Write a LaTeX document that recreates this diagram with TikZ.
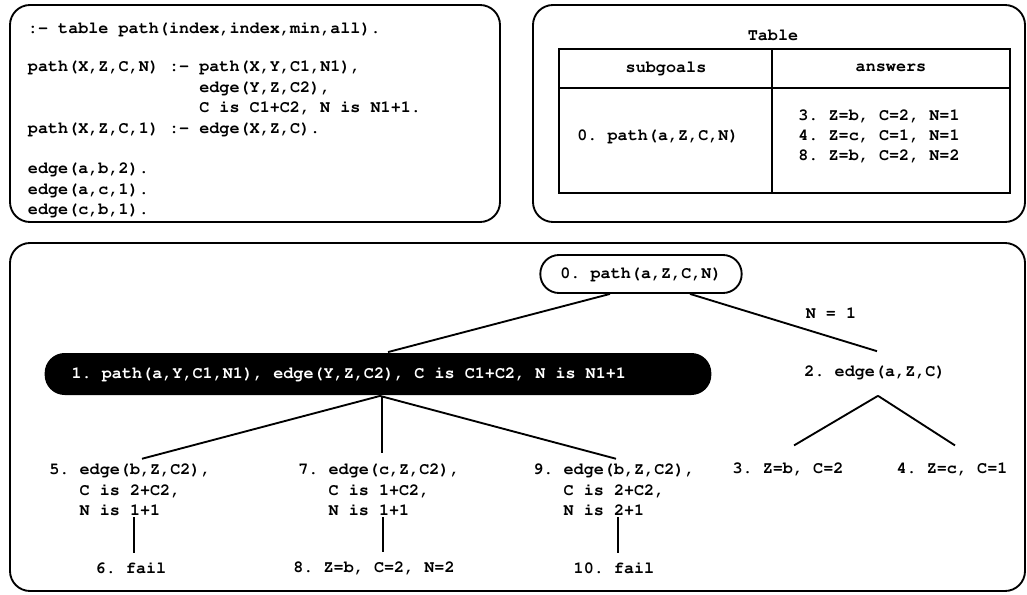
\documentclass[tikz,border=0pt]{standalone}
\usepackage[T1]{fontenc}
\usepackage{courier}
\usetikzlibrary{calc,positioning}
\frenchspacing

\begin{document}
\begin{tikzpicture}[x=0.75pt,y=-0.75pt,
    font=\ttfamily\bfseries\fontsize{12.6}{15.3}\selectfont,
    line width=1.4pt,
    panel/.style={draw,rounded corners=15pt},
    goal/.style={draw,rounded corners=14pt,minimum width=151pt,minimum height=28.5pt,inner sep=0pt},
    active/.style={fill=black,text=white,rounded corners=15pt,inner xsep=20.25pt,inner ysep=0pt,minimum height=31.5pt},
    leaf/.style={align=left}]

\useasboundingbox (0,0) rectangle (1027,595);

% the three panels
\draw[panel] (10,5) rectangle (500,222);
\draw[panel] (533,5) rectangle (1025,222);
\draw[panel] (10,243) rectangle (1025,591);

% program
\node[align=left,anchor=north west,inner sep=0pt] (prog) at (27,21) {:- table path(index,index,min,all).\\[13.8pt]
path(X,Z,C,N) :- path(X,Y,C1,N1),\\
\hphantom{path(X,Z,C,N) :- }edge(Y,Z,C2),\\
\hphantom{path(X,Z,C,N) :- }C is C1+C2, N is N1+1.\\
path(X,Z,C,1) :- edge(X,Z,C).\\[15.3pt]
edge(a,b,2).\\
edge(a,c,1).\\
edge(c,b,1).};

% table
\node (tabtitle) at (773,35) {Table};
\draw (559,49) rectangle (1010,193);
\draw (559,88) -- (1010,88);
\draw (772,49) -- (772,193);
\node (subg) at (666,68) {subgoals};
\node (answ) at (891,68) {answers};
\node (tsub) at (658,136) {0. path(a,Z,C,N)};
\node[align=left] (tans) at (879,136) {3. Z=b, C=2, N=1\\4. Z=c, C=1, N=1\\8. Z=b, C=2, N=2};

% tree
\node[goal] (n0) at (641,274) {0. path(a,Z,C,N)};
\node[active] (n1) at (378,374) {\makebox[459.5pt][l]{1. path(a,Y,C1,N1), edge(Y,Z,C2), C is C1+C2, N is N1+1}};
\node (n2) at (875,372) {2. edge(a,Z,C)};
\node (eq) at (831,313) {N = 1};
\node[leaf] (n5) at (130,490) {5. edge(b,Z,C2),\\\hphantom{5. }C is 2+C2,\\\hphantom{5. }N is 1+1};
\node[leaf] (n7) at (379,490) {7. edge(c,Z,C2),\\\hphantom{7. }C is 1+C2,\\\hphantom{7. }N is 1+1};
\node[leaf] (n9) at (614,490) {9. edge(b,Z,C2),\\\hphantom{9. }C is 2+C2,\\\hphantom{9. }N is 2+1};
\node (n3) at (788,469) {3. Z=b, C=2};
\node (n4) at (952,469) {4. Z=c, C=1};
\node (n6) at (131,568) {6. fail};
\node (n8) at (374,568) {8. Z=b, C=2, N=2};
\node (n10) at (614,568) {10. fail};

\draw ($(n0.south)+(-31,0)$) -- ($(n1.north)+(10,0)$);
\draw ($(n0.south)+(49,0)$) -- ($(n2.north)+(2,-9)$);
\draw ($(n1.south)+(2,0)$) -- ($(n5.north)+(12,0)$);
\draw ($(n1.south)+(4,0)$) -- ($(n7.north)+(3,-6)$);
\draw ($(n1.south)+(2,0)$) -- ($(n9.north)+(2,0)$);
\draw ($(n2.south)+(3,12)$) -- ($(n3.north)+(6,-12)$);
\draw ($(n2.south)+(3,12)$) -- ($(n4.north)+(3,-12)$);
\draw ($(n5.south)+(4,-4)$) -- ($(n6.north)+(3,-4)$);
\draw ($(n7.south)+(4,-4)$) -- ($(n8.north)+(9,-4)$);
\draw ($(n9.south)+(4,-4)$) -- ($(n10.north)+(4,-4)$);
\end{tikzpicture}
\end{document}
